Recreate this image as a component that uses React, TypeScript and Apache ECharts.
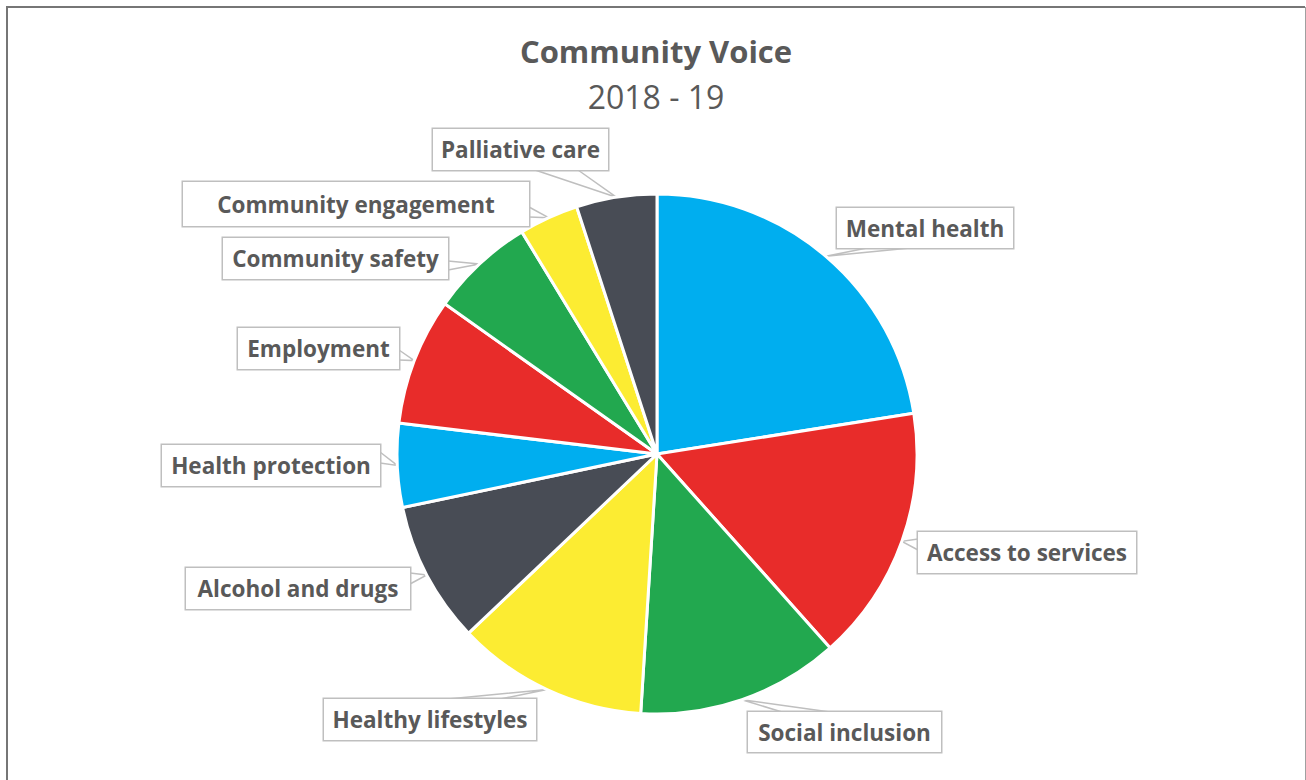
import React, { useEffect, useRef } from "react";
import * as echarts from "echarts";

const titleText = "Community Voice";
const subtitleText = "2018 - 19";

const categories = [
  "Mental health",
  "Access to services",
  "Social inclusion",
  "Healthy lifestyles",
  "Alcohol and drugs",
  "Health protection",
  "Employment",
  "Community safety",
  "Community engagement",
  "Palliative care",
];

// share of responses (%)
const shares = [22.5, 15.9, 12.6, 11.9, 8.8, 5.2, 7.9, 6.5, 3.7, 5.0];

const sliceColors = [
  "#00AEEF",
  "#E82C2A",
  "#22A84F",
  "#FCEC32",
  "#484C55",
  "#00AEEF",
  "#E82C2A",
  "#22A84F",
  "#FCEC32",
  "#484C55",
];

// callout boxes: x, y, w, h and the two wedge base points relative to the box
const calloutLayout = [
  { x: 837, y: 208, w: 176, h: 40, a: [30, 40], b: [73, 40] },
  { x: 918, y: 532, w: 218, h: 41, a: [0, 7], b: [0, 18] },
  { x: 748, y: 712, w: 193, h: 40, a: [34, 0], b: [82, 0] },
  { x: 324, y: 699, w: 212, h: 41, a: [124, 0], b: [176, 0] },
  { x: 186, y: 568, w: 224, h: 41, a: [224, 5], b: [224, 16] },
  { x: 162, y: 445, w: 218, h: 41, a: [218, 7], b: [218, 18] },
  { x: 238, y: 328, w: 161, h: 41, a: [161, 22], b: [161, 32] },
  { x: 223, y: 238, w: 225, h: 41, a: [225, 23], b: [225, 32] },
  { x: 183, y: 182, w: 346, h: 44, a: [346, 25], b: [346, 35] },
  { x: 433, y: 129, w: 175, h: 41, a: [102, 41], b: [145, 41] },
];

export default function App() {
  const ref = useRef<HTMLDivElement>(null);

  useEffect(() => {
    if (!ref.current) return;
    const chart = echarts.init(ref.current, undefined, { renderer: "svg" });

    const data = categories.map((name, i) => ({
      name,
      value: shares[i],
      itemStyle: { color: sliceColors[i] },
      label: {
        width: calloutLayout[i].w,
        height: calloutLayout[i].h,
        lineHeight: calloutLayout[i].h,
      },
    }));

    chart.setOption({
      animation: false,
      backgroundColor: "#ffffff",
      title: {
        text: titleText,
        subtext: subtitleText,
        left: 651,
        top: 30,
        textAlign: "center",
        itemGap: 14,
        textStyle: {
          fontFamily: "Open Sans",
          fontWeight: "bold",
          fontSize: 31,
          color: "#595959",
        },
        subtextStyle: {
          fontFamily: "Open Sans",
          fontWeight: "normal",
          fontSize: 32,
          color: "#595959",
        },
      },
      graphic: [
        {
          type: "polyline",
          shape: { points: [[7, 800], [7, 7], [1305, 7]] },
          style: { stroke: "#767676", lineWidth: 2, fill: null },
          silent: true,
        },
        {
          type: "line",
          shape: { x1: 1305.5, y1: 7, x2: 1305.5, y2: 800 },
          style: { stroke: "#A0A0A0", lineWidth: 1 },
          silent: true,
        },
      ],
      series: [
        {
          type: "pie",
          center: [657, 454],
          radius: 260,
          startAngle: 90,
          clockwise: true,
          avoidLabelOverlap: false,
          emphasis: { disabled: true },
          itemStyle: { borderColor: "#ffffff", borderWidth: 3 },
          label: {
            show: true,
            position: "outside",
            formatter: "{b}",
            color: "#595959",
            fontFamily: "Open Sans",
            fontWeight: "bold",
            fontSize: 22.5,
            backgroundColor: "#ffffff",
            borderColor: "#BFBFBF",
            borderWidth: 1.5,
            align: "center",
            verticalAlign: "middle",
            padding: 0,
          },
          labelLine: {
            show: true,
            length: 10,
            length2: 10,
            lineStyle: { color: "#BFBFBF", width: 1.5 },
          },
          labelLayout: (params: any) => {
            const c = calloutLayout[params.dataIndex];
            const pts = params.labelLinePoints;
            const tip = pts && pts[0] ? pts[0] : null;
            const out: any = {
              x: c.x + c.w / 2,
              y: c.y + c.h / 2,
              align: "center",
              verticalAlign: "middle",
            };
            if (tip) {
              out.labelLinePoints = [
                [c.x + c.a[0], c.y + c.a[1]],
                [tip[0], tip[1]],
                [c.x + c.b[0], c.y + c.b[1]],
              ];
            }
            return out;
          },
          data,
        },
      ],
    });

    return () => {
      chart.dispose();
    };
  }, []);

  return (
    <div
      ref={ref}
      style={{ position: "absolute", left: 0, top: 0, width: 1306, height: 780 }}
    />
  );
}
